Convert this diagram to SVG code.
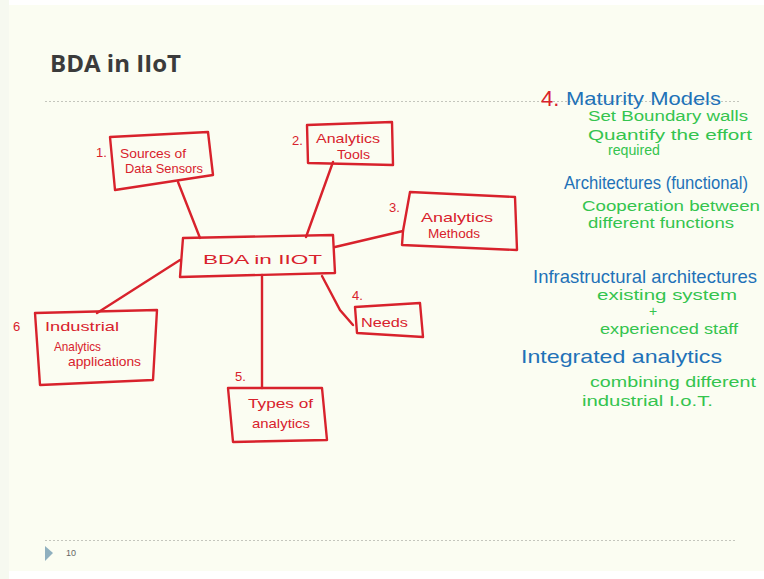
<svg xmlns="http://www.w3.org/2000/svg" width="764" height="579" viewBox="0 0 764 579">
<style>
.bx{fill:none;stroke:#d8222c;stroke-width:2.4;stroke-linejoin:round;stroke-linecap:round}
.cn{fill:none;stroke:#d8222c;stroke-width:2.4;stroke-linecap:round}
.rt{fill:#d8222c;font-family:"Liberation Sans",Arial,sans-serif;font-size:13px}
.bt{fill:#1f72b8;font-family:"Liberation Sans",Arial,sans-serif;font-size:19px}
.gt{fill:#34c44e;font-family:"Liberation Sans",Arial,sans-serif;font-size:14px}
.dash{stroke:#c4c6bd;stroke-width:1;stroke-dasharray:2 2}
</style>
<rect x="0" y="0" width="764" height="579" fill="#ffffff"/>
<rect x="0" y="0" width="9" height="579" fill="#f6f9f0"/>
<rect x="9" y="5" width="755" height="566" fill="#fbfdf2"/>
<text x="50" y="72" font-family="'Open Sans',sans-serif" font-weight="bold" font-size="23" fill="#3b3b3b" textLength="131" lengthAdjust="spacingAndGlyphs">BDA in IIoT</text>
<line class="dash" x1="45" y1="101.5" x2="740" y2="101.5"/>
<line class="dash" x1="45" y1="540.5" x2="736" y2="540.5"/>
<polygon points="45,546 53,553 45,561" fill="#8fb0bf"/>
<text x="66" y="556" font-family="'Liberation Sans',sans-serif" font-size="9" fill="#666">10</text>

<g id="connectors">
<line class="cn" x1="178" y1="182" x2="200" y2="238"/>
<line class="cn" x1="333" y1="162" x2="306" y2="237"/>
<line class="cn" x1="335" y1="247" x2="403" y2="231"/>
<polyline class="cn" points="322,276 340,310 353,325"/>
<line class="cn" x1="262" y1="275" x2="262" y2="388"/>
<line class="cn" x1="180" y1="260" x2="97" y2="313"/>
</g>

<g id="center">
<polygon class="bx" points="183,238 333,235 335,273 180,277"/>
<text class="rt" x="203" y="264" font-size="15" textLength="119" lengthAdjust="spacingAndGlyphs">BDA in IIOT</text>
</g>

<g id="n1">
<polygon class="bx" points="110,137 208,132 213,175 115,190"/>
<text class="rt" x="96" y="157">1.</text>
<text class="rt" x="120" y="158" textLength="66" lengthAdjust="spacingAndGlyphs">Sources of</text>
<text class="rt" x="125" y="173" textLength="78" lengthAdjust="spacingAndGlyphs">Data Sensors</text>
</g>

<g id="n2">
<polygon class="bx" points="307,125 392,122 393,165 308,163"/>
<text class="rt" x="292" y="145">2.</text>
<text class="rt" x="316" y="143" textLength="64" lengthAdjust="spacingAndGlyphs">Analytics</text>
<text class="rt" x="337" y="159" textLength="33" lengthAdjust="spacingAndGlyphs">Tools</text>
</g>

<g id="n3">
<polygon class="bx" points="410,192 515,197 517,250 402,245 403,231"/>
<text class="rt" x="389" y="212">3.</text>
<text class="rt" x="421" y="222" textLength="72" lengthAdjust="spacingAndGlyphs">Analytics</text>
<text class="rt" x="428" y="238" textLength="52" lengthAdjust="spacingAndGlyphs">Methods</text>
</g>

<g id="n4">
<polygon class="bx" points="355,307 420,303 423,337 357,333"/>
<text class="rt" x="352" y="300">4.</text>
<text class="rt" x="361" y="327" textLength="47" lengthAdjust="spacingAndGlyphs">Needs</text>
</g>

<g id="n5">
<polygon class="bx" points="228,388 322,388 327,440 233,442"/>
<text class="rt" x="235" y="381">5.</text>
<text class="rt" x="248" y="408" textLength="65" lengthAdjust="spacingAndGlyphs">Types of</text>
<text class="rt" x="252" y="428" textLength="58" lengthAdjust="spacingAndGlyphs">analytics</text>
</g>

<g id="n6">
<polygon class="bx" points="35,313 157,310 153,380 40,385"/>
<text class="rt" x="13" y="331" font-size="15">6</text>
<text class="rt" x="45" y="331" textLength="74" lengthAdjust="spacingAndGlyphs">Industrial</text>
<text class="rt" x="54" y="351" textLength="47" lengthAdjust="spacingAndGlyphs">Analytics</text>
<text class="rt" x="68" y="366" textLength="73" lengthAdjust="spacingAndGlyphs">applications</text>
</g>

<g id="notes">
<text x="541" y="106" font-family="'Liberation Sans',sans-serif" font-size="22" fill="#d8222c">4.</text>
<text class="bt" x="566" y="105" textLength="155" lengthAdjust="spacingAndGlyphs">Maturity Models</text>
<text class="gt" x="588" y="121" textLength="160" lengthAdjust="spacingAndGlyphs">Set Boundary walls</text>
<text class="gt" x="588" y="140" textLength="164" lengthAdjust="spacingAndGlyphs">Quantify the effort</text>
<text class="gt" x="608" y="155" font-size="12" textLength="52" lengthAdjust="spacingAndGlyphs">required</text>
<text class="bt" x="564" y="189" font-size="15" textLength="184" lengthAdjust="spacingAndGlyphs">Architectures (functional)</text>
<text class="gt" x="582" y="211" textLength="178" lengthAdjust="spacingAndGlyphs">Cooperation between</text>
<text class="gt" x="588" y="228" textLength="146" lengthAdjust="spacingAndGlyphs">different functions</text>
<text class="bt" x="533" y="283" font-size="18" textLength="224" lengthAdjust="spacingAndGlyphs">Infrastructural architectures</text>
<text class="gt" x="597" y="300" textLength="140" lengthAdjust="spacingAndGlyphs">existing system</text>
<text class="gt" x="649" y="316" font-size="13">+</text>
<text class="gt" x="600" y="334" textLength="138" lengthAdjust="spacingAndGlyphs">experienced staff</text>
<text class="bt" x="521" y="363" textLength="201" lengthAdjust="spacingAndGlyphs">Integrated analytics</text>
<text class="gt" x="590" y="387" textLength="166" lengthAdjust="spacingAndGlyphs">combining different</text>
<text class="gt" x="582" y="406" textLength="131" lengthAdjust="spacingAndGlyphs">industrial I.o.T.</text>
</g>
</svg>
